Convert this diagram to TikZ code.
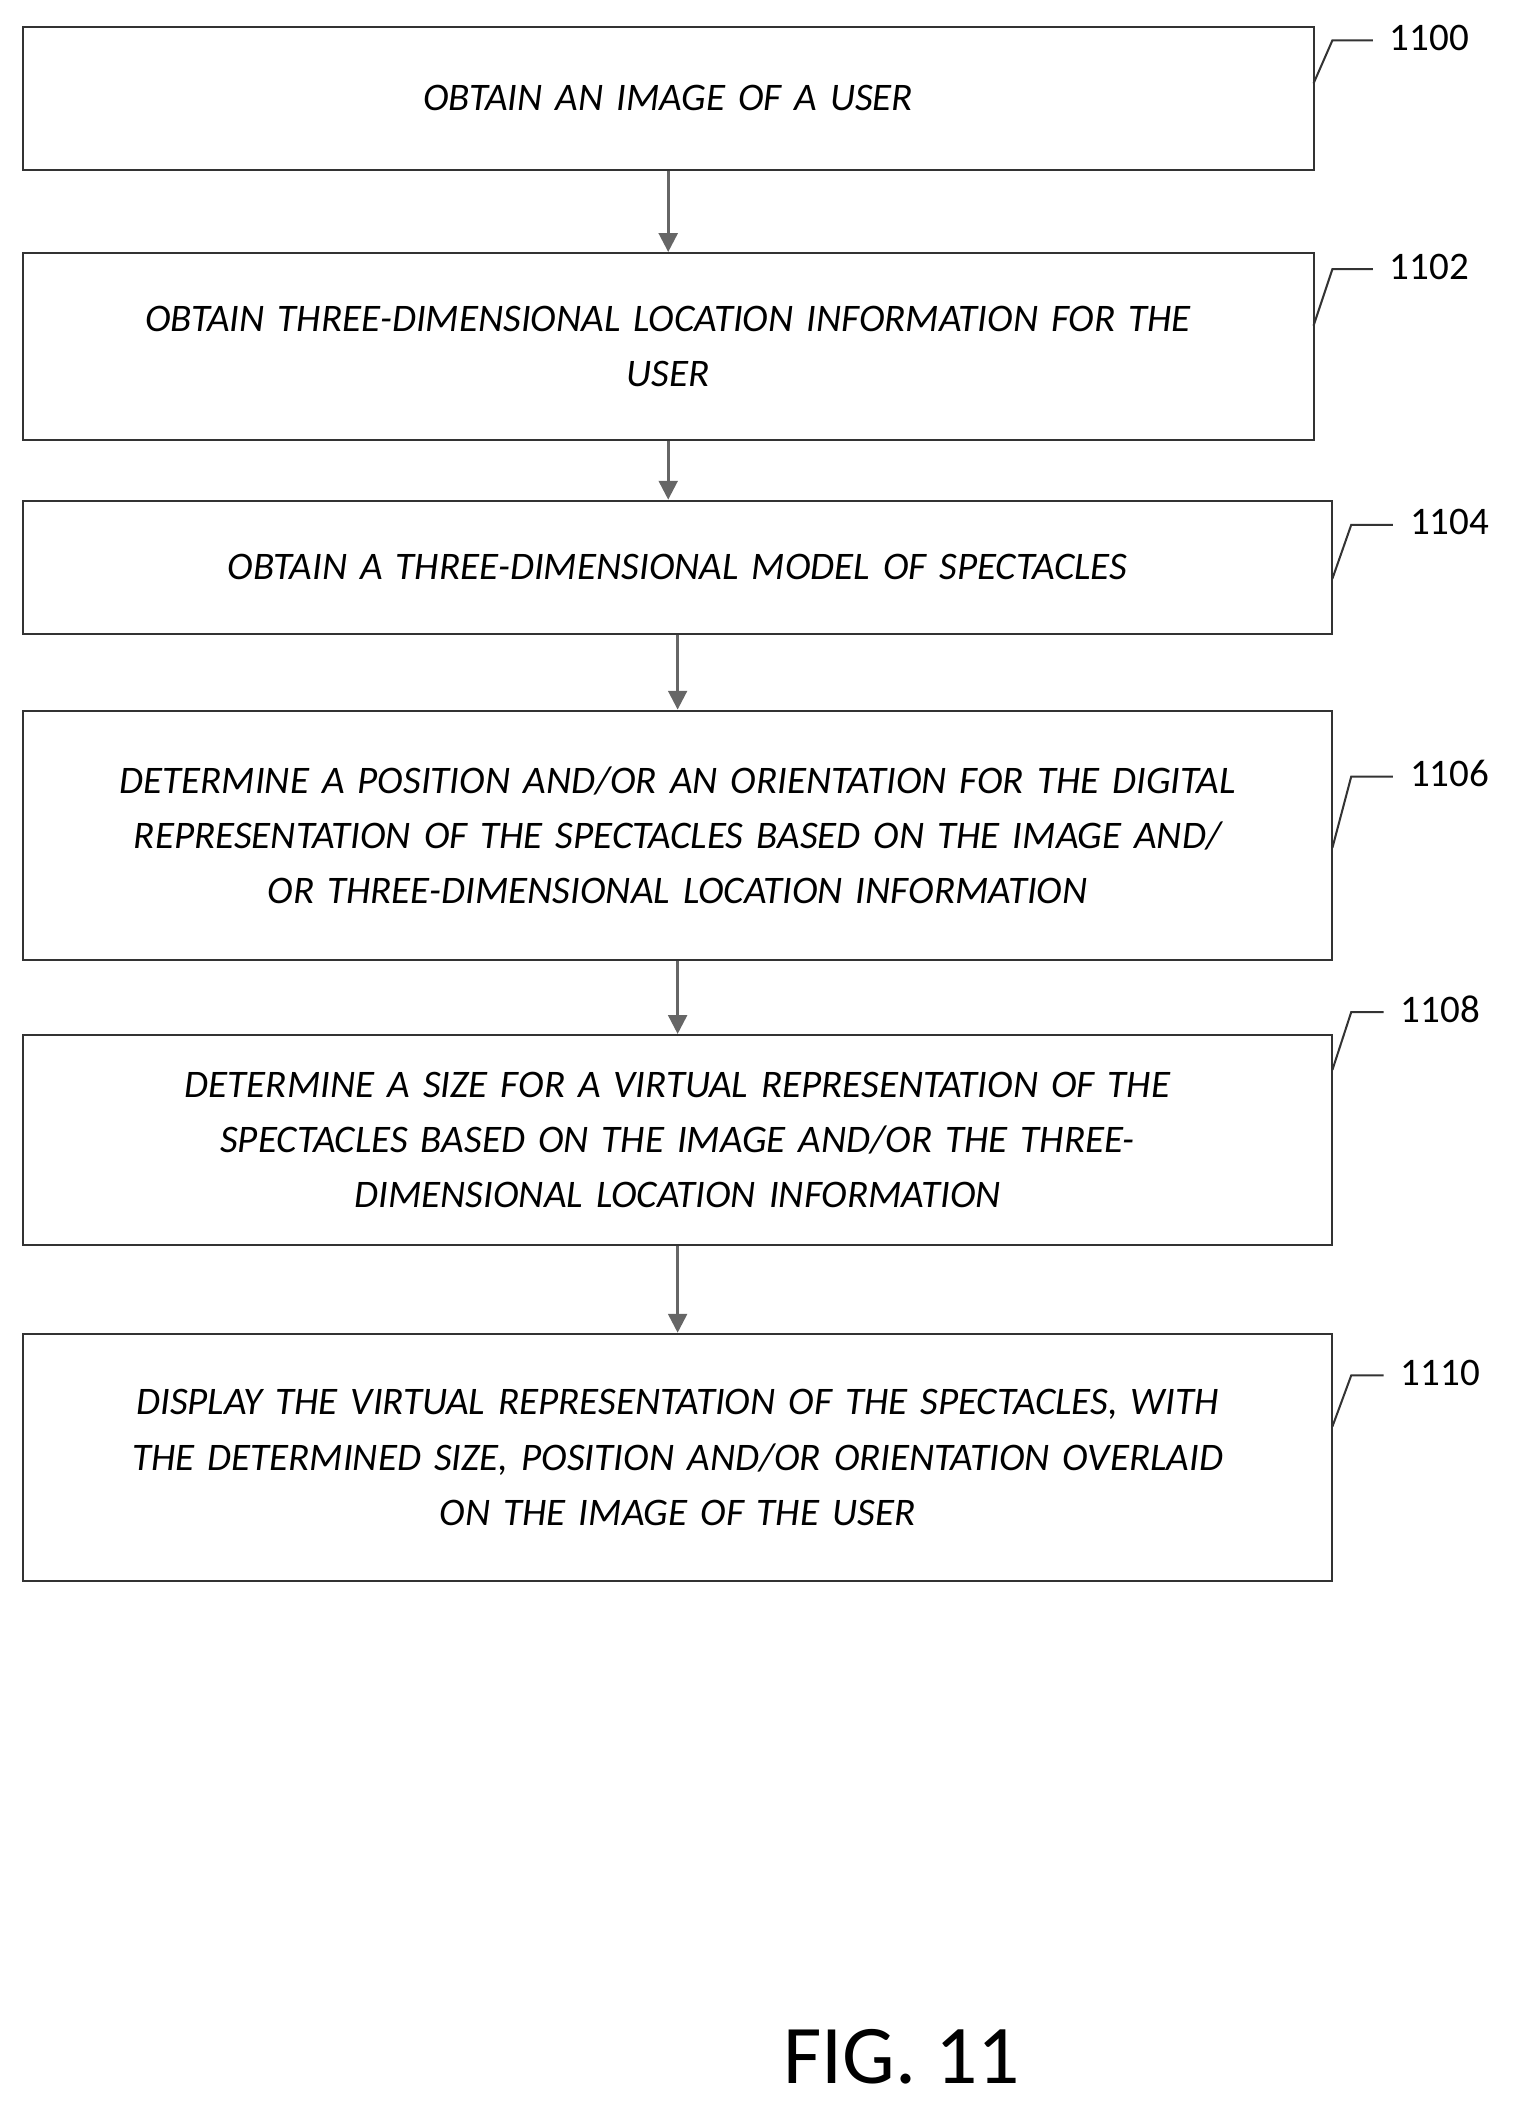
\documentclass[tikz,border=0pt]{standalone}
\usepackage{fontspec}
\setmainfont{Carlito}
\usepackage{tikz}
\usetikzlibrary{positioning}
\usetikzlibrary{arrows.meta}
\tikzset{every picture/.style={line width=1.5pt}}
\tikzset{stepbox/.style={draw=black!80, align=center, inner sep=0pt, font=\fontsize{29}{41}\selectfont\itshape},
  flow/.style={draw=black!60, line width=2pt, -{Triangle[length=14pt,width=14pt]}},
  refno/.style={anchor=west, inner sep=0pt, font=\fontsize{29}{34}\selectfont},
  lead/.style={draw=black!80, line width=1.5pt}}

\begin{document}
\begin{tikzpicture}[x=1pt,y=-1pt]
\useasboundingbox (0,0) rectangle (1130,1573);

% Steps
\node [stepbox, minimum width=959pt, minimum height=106pt, text width=940pt] (s1100) at (496.5,73) {OBTAIN AN IMAGE OF A USER};
\node [stepbox, minimum width=959pt, minimum height=139pt, text width=900pt] (s1102) at (496.5,257.5) {OBTAIN THREE-DIMENSIONAL LOCATION INFORMATION FOR THE\\USER};
\node [stepbox, minimum width=973pt, minimum height=99pt, text width=950pt] (s1104) at (503.5,421.5) {OBTAIN A THREE-DIMENSIONAL MODEL OF SPECTACLES};
\node [stepbox, minimum width=973pt, minimum height=185pt, text width=970pt] (s1106) at (503.5,620.5) {DETERMINE A POSITION AND/OR AN ORIENTATION FOR THE DIGITAL\\REPRESENTATION OF THE SPECTACLES BASED ON THE IMAGE AND/\\OR THREE-DIMENSIONAL LOCATION INFORMATION};
\node [stepbox, minimum width=973pt, minimum height=156pt, text width=950pt] (s1108) at (503.5,847) {DETERMINE A SIZE FOR A VIRTUAL REPRESENTATION OF THE\\SPECTACLES BASED ON THE IMAGE AND/OR THE THREE-\\DIMENSIONAL LOCATION INFORMATION};
\node [stepbox, minimum width=973pt, minimum height=184pt, text width=972pt] (s1110) at (503.5,1083) {DISPLAY THE VIRTUAL REPRESENTATION OF THE SPECTACLES, WITH\\THE DETERMINED SIZE, POSITION AND/OR ORIENTATION OVERLAID\\ON THE IMAGE OF THE USER};

% Arrows
\draw [flow] (s1100.south) -- (s1102.north);
\draw [flow] (s1102.south) -- (s1104.north -| s1102.south);
\draw [flow] (s1104.south) -- (s1106.north);
\draw [flow] (s1106.south) -- (s1108.north);
\draw [flow] (s1108.south) -- (s1110.north);

% Reference numbers
\node [refno] (n1100) at (1032,28) {1100};
\node [refno] (n1102) at (1032,198) {1102};
\node [refno] (n1104) at (1047,388) {1104};
\node [refno] (n1106) at (1047,575) {1106};
\node [refno] (n1108) at (1040,750) {1108};
\node [refno] (n1110) at (1040,1020) {1110};
\draw [lead] (976,62) -- (990,30) -- (1020,30);
\draw [lead] (976,242) -- (990,200) -- (1020,200);
\draw [lead] (990,430) -- (1004,390) -- (1035,390);
\draw [lead] (990,630) -- (1004,577) -- (1035,577);
\draw [lead] (990,795) -- (1004,752) -- (1028,752);
\draw [lead] (990,1060) -- (1004,1022) -- (1028,1022);

% Figure label
\node [inner sep=0pt, font=\fontsize{62}{70}\selectfont] (fig) at (670,1528) {FIG. 11};
\end{tikzpicture}
\end{document}
